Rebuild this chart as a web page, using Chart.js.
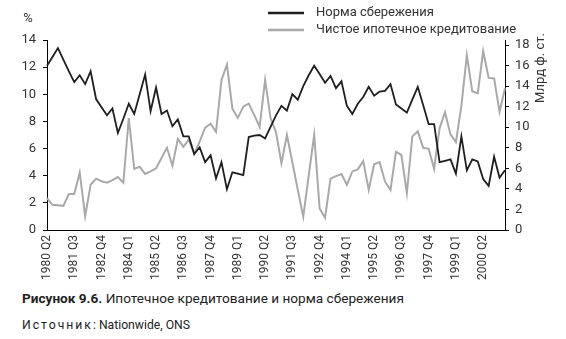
<!DOCTYPE html>
<html lang="ru">
<head>
<meta charset="utf-8">
<script src="https://cdn.jsdelivr.net/npm/chart.js@4.4.1/dist/chart.umd.min.js"></script>
<style>
  html, body { margin: 0; padding: 0; background: #fff; }
  body { width: 566px; height: 339px; position: relative; overflow: hidden; font-family: Roboto, "Noto Sans", sans-serif; color: #222; }
  #wrap { position: absolute; left: 0; top: 0; width: 566px; height: 288px; }
  .caption { position: absolute; left: 22px; top: 290px; font-size: 13.6px; white-space: nowrap; }
  .source { position: absolute; left: 22px; top: 318px; font-size: 12.2px; white-space: nowrap; }
  .spaced { letter-spacing: 2px; }
</style>
</head>
<body>
<div id="wrap"><canvas id="chart"></canvas></div>
<div class="caption"><b>Рисунок 9.6.</b> Ипотечное кредитование и норма сбережения</div>
<div class="source"><span class="spaced">Источник</span>: Nationwide, ONS</div>
<script>
// квартальный ряд: 1980 Q2 ... 2001 Q2
const firstYear = 1980;
const firstQuarter = 2;
const quarterCount = 85;

// норма сбережения, % (левая ось)
const savingsRatio = [
  12.1, 12.75, 13.4, 12.55, 11.7, 10.9, 11.4, 10.75, 11.7, 9.65,
  9.05, 8.45, 8.95, 7.15, 8.2, 9.3, 8.55, 10.0, 11.45, 8.75,
  10.5, 8.55, 8.8, 7.65, 8.15, 6.9, 6.9, 5.6, 6.1, 5.0,
  5.5, 3.8, 5.0, 3.0, 4.25, 4.15, 4.05, 6.85, 6.95, 7.0,
  6.75, 7.6, 8.45, 9.15, 8.8, 10.0, 9.6, 10.6, 11.4, 12.1,
  11.5, 10.85, 11.35, 10.45, 10.95, 9.15, 8.55, 9.3, 9.8, 10.55,
  9.9, 10.2, 10.25, 10.75, 9.25, 8.95, 8.65, 9.6, 10.55, 9.2,
  7.8, 7.8, 5.0, 5.1, 5.2, 4.15, 6.9, 4.4, 5.2, 5.05,
  3.75, 3.25, 5.4, 3.85, 4.4
];

// чистое ипотечное кредитование, млрд ф. ст. (правая ось)
const netMortgageLending = [
  3.1, 2.45, 2.4, 2.35, 3.5, 3.5, 5.6, 1.35, 4.4, 5.0,
  4.75, 4.6, 4.85, 5.15, 4.6, 10.9, 5.95, 6.15, 5.45, 5.7,
  6.0, 7.0, 8.0, 6.25, 8.85, 8.1, 8.8, 7.4, 8.6, 9.95,
  10.35, 9.55, 14.6, 16.1, 11.8, 10.9, 12.0, 12.3, 11.2, 10.05,
  14.6, 10.9, 9.5, 6.5, 9.25, 6.6, 3.9, 1.3, 5.3, 9.25,
  2.1, 1.2, 5.0, 5.25, 5.45, 4.4, 5.7, 5.9, 6.7, 3.9,
  6.4, 6.6, 4.7, 3.9, 7.6, 7.3, 3.6, 9.1, 9.6, 8.0,
  7.9, 5.95, 9.9, 11.45, 9.3, 8.55, 12.1, 17.0, 13.5, 13.3,
  17.4, 14.8, 14.75, 11.5, 13.8
];

const leftTicks = [0, 2, 4, 6, 8, 10, 12, 14];
const rightTicks = [0, 2, 4, 6, 8, 10, 12, 14, 16, 18];
const labelEvery = 5;

const quarters = [];
for (let i = 0; i < quarterCount; i++) {
  const n = firstQuarter - 1 + i;
  quarters.push(`${firstYear + Math.floor(n / 4)} Q${n % 4 + 1}`);
}

const fontFamily = 'Roboto, "Noto Sans", sans-serif';
Chart.defaults.font.family = fontFamily;
Chart.defaults.font.size = 13;
Chart.defaults.color = '#333';

const extraText = {
  id: 'extraText',
  afterDraw(chart) {
    const { ctx } = chart;
    ctx.save();
    ctx.fillStyle = '#333';
    ctx.font = `13px ${fontFamily}`;
    ctx.textBaseline = 'middle';
    ctx.textAlign = 'center';
    ctx.fillText('%', 28, 19);

    // легенда
    chart.data.datasets.forEach((ds, i) => {
      const y = 13 + i * 17;
      ctx.strokeStyle = ds.borderColor;
      ctx.lineWidth = 2.5;
      ctx.beginPath();
      ctx.moveTo(268, y);
      ctx.lineTo(304, y);
      ctx.stroke();
      ctx.textAlign = 'left';
      ctx.fillText(ds.label, 316, y);
    });

    // подпись правой оси
    ctx.translate(541, 68);
    ctx.rotate(-Math.PI / 2);
    ctx.textAlign = 'center';
    ctx.fillText('Млрд ф. ст.', 0, 0);
    ctx.restore();
  }
};

new Chart(document.getElementById('chart'), {
  type: 'line',
  data: {
    labels: quarters,
    datasets: [{
      label: 'Норма сбережения',
      data: savingsRatio,
      yAxisID: 'y',
      borderColor: '#1e1e1e',
      borderWidth: 1.8,
    }, {
      label: 'Чистое ипотечное кредитование',
      data: netMortgageLending,
      yAxisID: 'y1',
      borderColor: '#a9a9a9',
      borderWidth: 2,
    }]
  },
  options: {
    responsive: true,
    maintainAspectRatio: false,
    animation: false,
    layout: { padding: { top: 40, left: 0, right: 0, bottom: 0 } },
    elements: { point: { radius: 0 }, line: { tension: 0 } },
    plugins: { legend: { display: false }, tooltip: { enabled: false } },
    scales: {
      x: {
        grid: { display: false, drawTicks: false, tickLength: 0 },
        border: { display: true, color: '#000', width: 1 },
        ticks: {
          autoSkip: false,
          maxRotation: 90,
          minRotation: 90,
          padding: 5,
          font: { size: 12 },
          callback: (v, i) => i % labelEvery === 0 ? quarters[i] : ''
        },
        afterFit: s => { s.height = 58; }
      },
      y: {
        position: 'left',
        min: 0,
        max: 14,
        afterBuildTicks: s => { s.ticks = leftTicks.map(v => ({ value: v })); },
        ticks: { padding: 7 },
        grid: { drawOnChartArea: false, tickLength: 4, color: '#000' },
        border: { color: '#000', width: 1 },
        afterFit: s => { s.width = 47; }
      },
      y1: {
        position: 'right',
        min: 0,
        max: 18.49,
        afterBuildTicks: s => { s.ticks = rightTicks.map(v => ({ value: v })); },
        ticks: { padding: 6 },
        grid: { drawOnChartArea: false, tickLength: 4, color: '#000' },
        border: { color: '#000', width: 1 },
        afterFit: s => { s.width = 61; }
      }
    }
  },
  plugins: [extraText]
});
</script>
</body>
</html>
